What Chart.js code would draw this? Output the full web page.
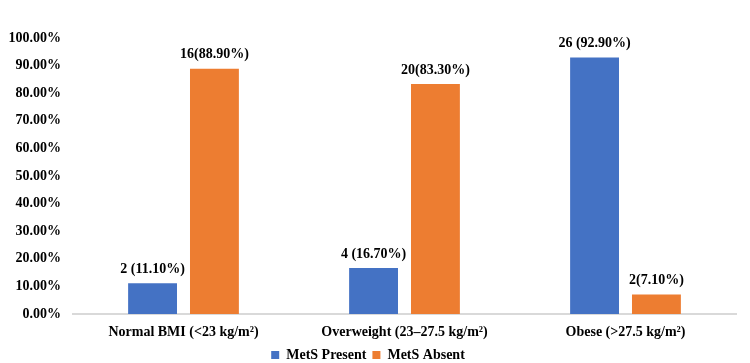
<!DOCTYPE html>
<html>
<head>
<meta charset="utf-8">
<script src="https://cdn.jsdelivr.net/npm/chart.js@4/dist/chart.umd.min.js"></script>
<style>
    html, body { margin: 0; padding: 0; background: #fff; }
    #wrap { width: 750px; height: 363px; }
</style>
</head>
<body>
<div id="wrap"><canvas id="bmiChart"></canvas></div>
<script>
// Chart data
const categories = ['Normal BMI (<23 kg/m²)', 'Overweight (23–27.5 kg/m²)', 'Obese (>27.5 kg/m²)'];
const presentValues = [11.1, 16.7, 92.9];
const absentValues = [88.9, 83.3, 7.1];
const presentLabels = ['2 (11.10%)', '4 (16.70%)', '26 (92.90%)'];
const absentLabels = ['16(88.90%)', '20(83.30%)', '2(7.10%)'];
const yTicks = [0, 10, 20, 30, 40, 50, 60, 70, 80, 90, 100];

const serif = '"Liberation Serif", "Times New Roman", serif';

// Draw the value labels above each bar
const barLabels = {
    id: 'barLabels',
    afterDatasetsDraw(chart) {
        const ctx = chart.ctx;
        ctx.save();
        ctx.font = 'bold 14px ' + serif;
        ctx.fillStyle = '#000';
        ctx.textAlign = 'center';
        ctx.textBaseline = 'bottom';
        chart.data.datasets.forEach((ds, i) => {
            chart.getDatasetMeta(i).data.forEach((bar, j) => {
                ctx.fillText(ds.valueLabels[j], bar.x, bar.y - 7);
            });
        });
        ctx.restore();
    }
};

new Chart(document.getElementById('bmiChart'), {
    type: 'bar',
    data: {
        labels: categories,
        datasets: [{
            label: 'MetS Present',
            data: presentValues,
            valueLabels: presentLabels,
            backgroundColor: '#4472C4'
        }, {
            label: 'MetS Absent',
            data: absentValues,
            valueLabels: absentLabels,
            backgroundColor: '#ED7D31'
        }]
    },
    options: {
        responsive: true,
        maintainAspectRatio: false,
        animation: false,
        datasets: {
            bar: { barPercentage: 0.79, categoryPercentage: 0.56 }
        },
        layout: {
            padding: { top: 38, left: 0, right: 14, bottom: -9 }
        },
        scales: {
            x: {
                grid: { display: false, drawTicks: false },
                border: { color: '#d9d9d9', width: 2 },
                ticks: {
                    color: '#000',
                    padding: 10,
                    font: { family: serif, size: 14, weight: 'bold' }
                },
                afterFit: (axis) => { axis.height = 28; }
            },
            y: {
                min: 0,
                max: 100,
                afterBuildTicks: (axis) => {
                    axis.ticks = yTicks.map(v => ({ value: v }));
                },
                grid: { display: false, drawTicks: false },
                border: { display: false },
                ticks: {
                    color: '#000',
                    padding: 12,
                    font: { family: serif, size: 14, weight: 'bold' },
                    callback: (v) => v.toFixed(2) + '%'
                },
                afterFit: (axis) => { axis.width = 73; }
            }
        },
        plugins: {
            legend: {
                position: 'bottom',
                labels: {
                    color: '#000',
                    boxWidth: 8,
                    boxHeight: 8,
                    padding: 6,
                    font: { family: serif, size: 14, weight: 'bold' }
                }
            },
            tooltip: { enabled: false }
        }
    },
    plugins: [barLabels]
});
</script>
</body>
</html>
